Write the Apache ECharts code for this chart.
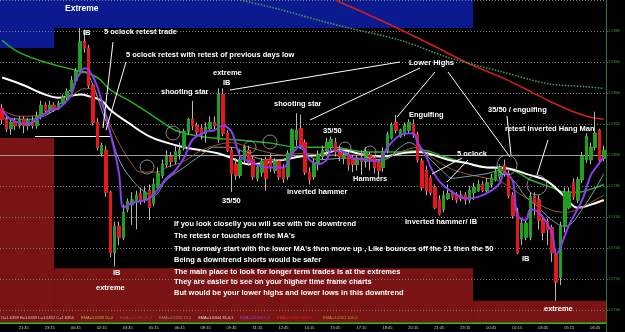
<!DOCTYPE html>
<html><head><meta charset="utf-8">
<script src="https://cdn.jsdelivr.net/npm/echarts@6.0.0/dist/echarts.min.js"></script>
<style>html,body{margin:0;padding:0;background:#000;}#c{width:625px;height:332px;}</style>
</head><body><div id="c"></div>
<script>
// ---- Candle data (15 min bars) ----
const opens = [1.5830,1.5823,1.5817,1.5821,1.5819,1.5823,1.5819,1.5822,1.5819,1.5825,
1.5832,1.5829,1.5832,1.5830,1.5833,1.5837,1.5841,1.5848,1.5854,1.5873,
1.5869,1.5845,1.5821,1.5801,1.5803,1.5776,1.5737,1.5754,1.5747,1.5765,
1.5768,1.5770,1.5775,1.5771,1.5777,1.5769,1.5779,1.5787,1.5794,1.5799,
1.5796,1.5801,1.5805,1.5815,1.5823,1.5819,1.5817,1.5814,1.5817,1.5821,
1.5810,1.5839,1.5814,1.5803,1.5794,1.5787,1.5797,1.5803,1.5797,1.5785,
1.5789,1.5797,1.5798,1.5790,1.5796,1.5792,1.5786,1.5801,1.5810,1.5817,
1.5808,1.5789,1.5786,1.5794,1.5799,1.5803,1.5805,1.5808,1.5803,1.5798,
1.5800,1.5797,1.5794,1.5798,1.5796,1.5800,1.5798,1.5795,1.5792,1.5803,
1.5811,1.5821,1.5812,1.5814,1.5816,1.5820,1.5813,1.5796,1.5790,1.5785,
1.5779,1.5771,1.5765,1.5772,1.5775,1.5774,1.5774,1.5774,1.5771,1.5776,
1.5777,1.5781,1.5777,1.5781,1.5784,1.5786,1.5793,1.5788,1.5774,1.5763,
1.5746,1.5747,1.5747,1.5773,1.5771,1.5758,1.5757,1.5753,1.5736,1.5721,
1.5754,1.5766,1.5782,1.5771,1.5784,1.5797,1.5797,1.5805,1.5816,1.5798];
const closes = [1.5823,1.5817,1.5821,1.5819,1.5823,1.5819,1.5822,1.5819,1.5825,1.5832,
1.5829,1.5832,1.5830,1.5833,1.5837,1.5841,1.5848,1.5854,1.5873,1.5869,
1.5845,1.5821,1.5805,1.5806,1.5776,1.5737,1.5754,1.5747,1.5763,1.5770,
1.5771,1.5774,1.5771,1.5776,1.5766,1.5781,1.5788,1.5794,1.5799,1.5796,
1.5802,1.5803,1.5815,1.5823,1.5819,1.5815,1.5813,1.5818,1.5821,1.5819,
1.5839,1.5814,1.5803,1.5788,1.5787,1.5797,1.5805,1.5795,1.5786,1.5792,
1.5796,1.5785,1.5792,1.5796,1.5786,1.5785,1.5801,1.5816,1.5816,1.5806,
1.5789,1.5784,1.5795,1.5800,1.5803,1.5808,1.5810,1.5802,1.5799,1.5800,
1.5794,1.5794,1.5798,1.5796,1.5802,1.5796,1.5792,1.5790,1.5802,1.5813,
1.5819,1.5816,1.5816,1.5819,1.5821,1.5813,1.5797,1.5779,1.5777,1.5776,
1.5766,1.5762,1.5774,1.5775,1.5773,1.5771,1.5772,1.5771,1.5777,1.5779,
1.5781,1.5777,1.5782,1.5785,1.5789,1.5792,1.5788,1.5774,1.5761,1.5737,
1.5756,1.5756,1.5773,1.5769,1.5758,1.5750,1.5752,1.5737,1.5718,1.5754,
1.5776,1.5776,1.5773,1.5784,1.5799,1.5812,1.5805,1.5814,1.5797,1.5803];
const lows = [1.5820,1.5815,1.5813,1.5816,1.5817,1.5814,1.5816,1.5817,1.5817,1.5823,
1.5827,1.5827,1.5828,1.5829,1.5832,1.5835,1.5839,1.5846,1.5852,1.5866,
1.5843,1.5819,1.5803,1.5799,1.5773,1.5734,1.5728,1.5742,1.5745,1.5763,
1.5755,1.5752,1.5768,1.5769,1.5758,1.5767,1.5777,1.5785,1.5792,1.5792,
1.5794,1.5797,1.5803,1.5813,1.5816,1.5812,1.5810,1.5808,1.5816,1.5816,
1.5808,1.5812,1.5802,1.5776,1.5784,1.5785,1.5795,1.5793,1.5784,1.5783,
1.5786,1.5777,1.5789,1.5788,1.5784,1.5782,1.5784,1.5799,1.5806,1.5805,
1.5787,1.5781,1.5784,1.5790,1.5797,1.5800,1.5803,1.5799,1.5796,1.5794,
1.5790,1.5789,1.5790,1.5787,1.5792,1.5790,1.5788,1.5785,1.5789,1.5801,
1.5810,1.5814,1.5811,1.5812,1.5814,1.5811,1.5795,1.5777,1.5774,1.5774,
1.5765,1.5761,1.5763,1.5771,1.5771,1.5769,1.5770,1.5768,1.5769,1.5771,
1.5776,1.5776,1.5776,1.5779,1.5783,1.5784,1.5786,1.5772,1.5759,1.5736,
1.5742,1.5745,1.5745,1.5761,1.5752,1.5745,1.5742,1.5731,1.5706,1.5716,
1.5750,1.5765,1.5771,1.5769,1.5782,1.5795,1.5794,1.5803,1.5794,1.5796];
const highs = [1.5833,1.5825,1.5823,1.5824,1.5825,1.5825,1.5824,1.5825,1.5828,1.5835,
1.5834,1.5835,1.5834,1.5835,1.5839,1.5843,1.5851,1.5856,1.5882,1.5881,
1.5871,1.5846,1.5824,1.5808,1.5806,1.5777,1.5757,1.5757,1.5768,1.5772,
1.5776,1.5777,1.5779,1.5780,1.5781,1.5785,1.5792,1.5797,1.5803,1.5802,
1.5806,1.5808,1.5817,1.5824,1.5835,1.5821,1.5820,1.5821,1.5825,1.5825,
1.5843,1.5843,1.5816,1.5805,1.5798,1.5803,1.5806,1.5806,1.5799,1.5794,
1.5798,1.5799,1.5801,1.5798,1.5797,1.5794,1.5803,1.5817,1.5827,1.5826,
1.5810,1.5792,1.5798,1.5803,1.5806,1.5811,1.5812,1.5811,1.5806,1.5803,
1.5802,1.5800,1.5800,1.5803,1.5805,1.5802,1.5800,1.5797,1.5805,1.5815,
1.5821,1.5826,1.5817,1.5821,1.5823,1.5823,1.5815,1.5798,1.5793,1.5787,
1.5781,1.5774,1.5777,1.5781,1.5777,1.5776,1.5777,1.5776,1.5780,1.5782,
1.5784,1.5783,1.5785,1.5788,1.5792,1.5794,1.5797,1.5790,1.5776,1.5766,
1.5759,1.5758,1.5776,1.5776,1.5774,1.5761,1.5759,1.5755,1.5739,1.5757,
1.5779,1.5779,1.5785,1.5786,1.5802,1.5814,1.5808,1.5828,1.5817,1.5806];

// ---- Moving averages: [bar index, price] ----
const maPurple = [[0,1.5829],[2,1.5823],[6,1.5820],[9,1.5825],[11,1.5829],[13,1.5830],[16,1.5839],[17,1.5848],[19,1.5856],[20,1.5855],[22,1.5844],[25,1.5814],[27,1.5788],[28,1.5766],[30,1.5769],[34,1.5772],[38,1.5785],[40,1.5790],[42,1.5798],[44,1.5810],[47,1.5815],[49,1.5816],[51,1.5819],[53,1.5815],[55,1.5799],[57,1.5796],[61,1.5792],[65,1.5792],[67,1.5801],[69,1.5806],[71,1.5797],[73,1.5794],[75,1.5797],[76,1.5803],[79,1.5802],[81,1.5798],[84,1.5797],[87,1.5796],[89,1.5805],[92,1.5813],[95,1.5814],[96,1.5808],[98,1.5799],[99,1.5792],[101,1.5783],[104,1.5776],[107,1.5772],[110,1.5773],[113,1.5777],[115,1.5782],[116,1.5789],[118,1.5783],[119,1.5761],[121,1.5758],[122,1.5765],[124,1.5763],[127,1.5750],[128,1.5736],[131,1.5755],[134,1.5771],[136,1.5787],[138,1.5795],[139,1.5799]];
const maGrey = [[0,1.5824],[6,1.5823],[11,1.5827],[14,1.5835],[17,1.5848],[19,1.5854],[21,1.5845],[23,1.5829],[25,1.5814],[27,1.5797],[30,1.5784],[33,1.5776],[35,1.5774],[38,1.5784],[42,1.5792],[46,1.5800],[49,1.5805],[53,1.5805],[57,1.5800],[61,1.5797],[65,1.5797],[68,1.5805],[73,1.5797],[80,1.5798],[88,1.5797],[92,1.5805],[94,1.5808],[96,1.5805],[99,1.5797],[102,1.5789],[104,1.5785],[107,1.5786],[112,1.5788],[115,1.5790],[118,1.5784],[121,1.5773],[124,1.5766],[127,1.5758],[130,1.5754],[134,1.5765],[139,1.5788]];
const maBrown = [[0,1.5829],[4,1.5825],[9,1.5826],[13,1.5830],[18,1.5842],[20,1.5843],[23,1.5832],[26,1.5813],[30,1.5794],[32,1.5789],[36,1.5789],[38,1.5792],[42,1.5796],[46,1.5803],[49,1.5806],[53,1.5808],[57,1.5805],[61,1.5802],[65,1.5800],[69,1.5801],[76,1.5800],[84,1.5800],[88,1.5798],[92,1.5802],[96,1.5805],[99,1.5799],[103,1.5792],[107,1.5788],[112,1.5785],[115,1.5783],[122,1.5771],[130,1.5763],[133,1.5765],[137,1.5771],[139,1.5774]];
const maWhite = [[0,1.5850],[5,1.5845],[9,1.5840],[13,1.5837],[18,1.5839],[20,1.5838],[23,1.5835],[25,1.5829],[29,1.5821],[34,1.5812],[38,1.5808],[42,1.5805],[46,1.5803],[50,1.5801],[53,1.5798],[57,1.5794],[61,1.5795],[65,1.5797],[69,1.5799],[73,1.5800],[78,1.5803],[84,1.5800],[88,1.5799],[92,1.5801],[96,1.5802],[103,1.5797],[107,1.5795],[112,1.5792],[115,1.5792],[122,1.5787],[126,1.5783],[130,1.5773],[133,1.5766],[136,1.5768],[139,1.5771]];
const maGreen = [[0,1.5874],[4,1.5866],[11,1.5859],[18,1.5854],[22,1.5850],[25,1.5842],[30,1.5834],[36,1.5823],[40,1.5816],[46,1.5812],[53,1.5810],[61,1.5808],[69,1.5805],[76,1.5805],[84,1.5802],[92,1.5802],[97,1.5803],[102,1.5799],[107,1.5795],[112,1.5792],[118,1.5790],[122,1.5784],[127,1.5779],[130,1.5776],[133,1.5776],[136,1.5778],[139,1.5781]];
const maRed = [[77,1.5900],[85,1.5890],[92,1.5881],[100,1.5870],[107,1.5860],[112,1.5854],[117,1.5848],[122,1.5841],[127,1.5834],[131,1.5829],[135,1.5825],[139,1.5823]];
const maDotted = [[55,1.5900],[64,1.5894],[73,1.5887],[80,1.5882],[92,1.5874],[103,1.5863],[115,1.5854],[126,1.5846],[135,1.5844],[139,1.5843]];

// ---- Zones (bar index range, price range) and horizontal levels ----
const blueZones = [[-0.5,108.8,1.5882,1.5900],[-0.5,12,1.5869,1.5882]];
const redZones = [[-0.5,12,1.5692,1.5811],[12,108.8,1.5692,1.5727],[108.8,139.5,1.5692,1.5706]];
const prevDayLow = 1.5805;
const retestLevel = [7.6, 24.9, 1.5812];

// ---- Time axis ----
const firstBarTime = [20, 30];
const barMinutes = 15;
const categories = opens.map((_, i) => {
  const m = (firstBarTime[0]*60 + firstBarTime[1] + barMinutes*i) % 1440;
  return String(Math.floor(m/60)).padStart(2,'0') + ':' + String(m%60).padStart(2,'0');
});

const candleData = opens.map((o,i) => [o, closes[i], lows[i], highs[i]]);
const bodyData = opens.map((o,i) => [o, closes[i], Math.min(o,closes[i]), Math.max(o,closes[i])]);

// ---- Annotations (screen overlay) ----
const F = 'bold 7.5px "Liberation Sans", Arial, sans-serif';
const notes = [
  ['Extreme',65,9,'bold 8.5px "Liberation Sans", Arial, sans-serif'],
  ['IB',83,33],['5 oclock retest trade',104,32],
  ['5 oclock retest with retest of previous days low',126,55],
  ['extreme',213,73],['IB',223,83],['shooting star',161,92],['shooting star',274,104],
  ['Lower Highs',409,63],['Engulfing',409,115],['35/50',323,131],
  ['35/50 / engulfing',488,110],['retest inverted Hang Man',505,129],['5 oclock',457,154],
  ['Hammers',353,179],['inverted hammer',287,192],['35/50',222,201],
  ['Inverted hammer/ IB',405,222],['IB',522,259],['IB',113,273],['extreme',96,288],['extreme',544,309],
  ['If you look closelly you will see with the downtrend',174,224],
  ["The retest or touches off the MA's",174,236],
  ["That normaly start with the lower MA's then move up , Like bounces off the 21 then the 50",174,249],
  ['Being a downtrend shorts would be safer',174,260],
  ['The main place to look for longer term trades is at the extremes',174,272],
  ['They are easier to see on your higher time frame charts',174,282],
  ['But would be your lower highs and lower lows in this downtrend',174,293]
];
const callouts = [[113,42,103,128],[126,62,106,130],[230,90,400,62],[310,120,420,68],[435,72,397,117],
  [448,72,510,157],[507,116,511,155],[548,140,537,175],[462,158,432,174],[468,160,447,182]];
const rings = [[173,133,7],[147,167,7],[250,147,6],[270,142,7],[345,148,6],[370,152,6],[507,165,10],[537,185,10]];
const legendStrip = [
  ['O=1.6358 H=1.6359 L=1.6352 C=1.6354',1,'#cfcfcf'],['EMA=1.6339 50,0',81,'#a8c040'],
  ['EMA=1.6335 21,0',120,'#a04848'],['EMA=1.6330 13,0',159,'#a08888'],['SMA=1.6344 35,0,1',198,'#e0e0e0'],
  ['EMA=1.6350 5,0',240,'#8a4ad0'],['EMA=1.6325 200,0',277,'#e03030'],['EMA=1.6301 100,0',323,'#a8a030']
];

const graphic = [];
notes.forEach(n => graphic.push({type:'text', x:n[1], y:n[2], z:100, silent:true,
  style:{text:n[0], fill:'#ffffff', font:n[3]||F, verticalAlign:'middle', align:'left'}}));
callouts.forEach(l => graphic.push({type:'line', z:99, silent:true, shape:{x1:l[0],y1:l[1],x2:l[2],y2:l[3]},
  style:{stroke:'#ffffff', lineWidth:1}}));
rings.forEach(r => graphic.push({type:'circle', z:99, silent:true, shape:{cx:r[0],cy:r[1],r:r[2]},
  style:{stroke:'#a8a8a8', fill:'transparent', lineWidth:0.8}}));
legendStrip.forEach(t => graphic.push({type:'text', x:t[1], y:318, z:100, silent:true,
  style:{text:t[0], fill:t[2], font:'4px "Liberation Sans", Arial, sans-serif', verticalAlign:'middle', align:'left'}}));

const maLine = (data, color, width, type, z, smooth) => ({
  type:'line', xAxisIndex:1, yAxisIndex:0, data, symbol:'none', showSymbol:false, silent:true,
  smooth: smooth, z, lineStyle:{color, width, type: type || 'solid'}
});

const chart = echarts.init(document.getElementById('c'), null, {renderer:'canvas'});
chart.setOption({
  backgroundColor:'#000000',
  animation:false,
  grid:[
    {left:0, right:19, top:0, height:341, containLabel:false, outerBoundsMode:'none'},
    {left:0, right:19, top:322, height:1, containLabel:false, outerBoundsMode:'none'}
  ],
  xAxis:[
    {type:'category', gridIndex:0, data:categories, boundaryGap:true, show:false, axisLine:{onZero:false}},
    {type:'value', gridIndex:0, min:-0.5, max:139.5, show:false, axisLine:{onZero:false}},
    {type:'category', gridIndex:1, data:categories, boundaryGap:true, position:'bottom',
      axisLine:{show:true, onZero:false, lineStyle:{color:'#22c322', width:2}}, axisTick:{show:false},
      splitLine:{show:false},
      axisLabel:{interval:(i) => i % 6 === 5, color:'#cfcfcf', fontSize:4, margin:3}}
  ],
  yAxis:[
    {type:'value', gridIndex:0, position:'right', min:1.568, max:1.590, interval:0.002, z:1,
      axisLine:{show:true, onZero:false, lineStyle:{color:'#2d7a2d', width:1}},
      axisTick:{show:true, length:2, lineStyle:{color:'#2d7a2d'}},
      axisLabel:{color:'#3c9c3c', fontSize:4, margin:2, showMinLabel:false, showMaxLabel:false,
        formatter:(v) => v.toFixed(4)},
      splitLine:{show:true, lineStyle:{color:'#7a7a7a', width:1, type:[1,2]}}},
    {type:'value', gridIndex:1, show:false, axisLine:{show:false, onZero:false}}
  ],
  series:[
    {type:'line', xAxisIndex:1, yAxisIndex:0, data:[], silent:true, z:0,
      markArea:{silent:true, z:0.5,
        data: blueZones.map(b => [{xAxis:b[0], yAxis:b[3], itemStyle:{color:'#0b1a8f', opacity:1}}, {xAxis:b[1], yAxis:b[2]}])
          .concat(redZones.map(b => [{xAxis:b[0], yAxis:b[3], itemStyle:{color:'#7a1313', opacity:1}}, {xAxis:b[1], yAxis:b[2]}]))},
      markLine:{silent:true, symbol:['none','none'], label:{show:false}, z:2,
        data:[
          {yAxis:prevDayLow, lineStyle:{color:'#9a9a9a', width:1, type:'solid'}},
          [{xAxis:retestLevel[0], yAxis:retestLevel[2], lineStyle:{color:'#ffffff', width:1, type:'solid'}},
           {xAxis:retestLevel[1], yAxis:retestLevel[2]}]
        ]}},
    maLine(maRed, '#d02020', 1.5, 'solid', 3, 0.3),
    maLine(maDotted, '#4c9c64', 1.5, 'dotted', 3, 0.3),
    maLine(maGreen, '#27b027', 1.5, 'solid', 3, 0.4),
    maLine(maWhite, '#ffffff', 2, 'solid', 3, 0.4),
    maLine(maBrown, '#9a5a2a', 1, 'solid', 3, 0.4),
    maLine(maGrey, '#7aa5a5', 1, 'solid', 3, 0.4),
    {type:'candlestick', xAxisIndex:0, yAxisIndex:0, data:candleData, barWidth:3, silent:true, z:4,
      itemStyle:{color:'#b5b5b5', color0:'#b5b5b5', borderColor:'#b5b5b5', borderColor0:'#b5b5b5', borderWidth:1}},
    {type:'candlestick', xAxisIndex:0, yAxisIndex:0, data:bodyData, barWidth:3, silent:true, z:5,
      itemStyle:{color:'#1fa01f', color0:'#e8161c', borderColor:'#1fa01f', borderColor0:'#e8161c', borderWidth:1}},
    maLine(maPurple, '#8a3cf0', 2, 'solid', 6, 0.3)
  ],
  graphic: graphic
});
</script></body></html>
